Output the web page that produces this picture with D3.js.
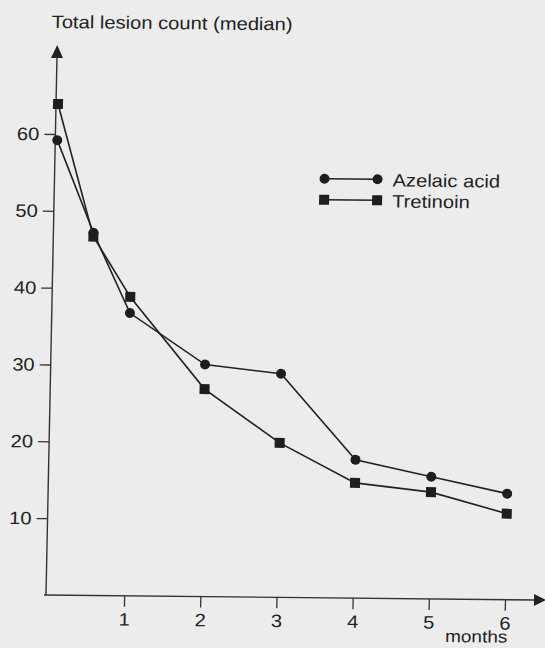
<!DOCTYPE html>
<html>
<head>
<meta charset="utf-8">
<style>
body { margin: 0; background: #ececec; }
svg { display: block; font-family: "Liberation Sans", Arial, sans-serif; }
.axis .domain { display: none; }
.axis line { stroke: #333; stroke-width: 1.3; }
.axis text { fill: #222; font-size: 18px; }
</style>
</head>
<body>
<svg width="545" height="648"></svg>
<script src="https://cdn.jsdelivr.net/npm/d3@7/dist/d3.min.js"></script>
<script>

// values
var months = [0, 0.5, 1, 2, 3, 4, 5, 6];
var azelaic = [59.2, 47.2, 36.8, 30.2, 29.1, 18.0, 15.9, 13.8];
var tretinoin = [63.9, 46.7, 38.9, 27.0, 20.1, 15.0, 13.9, 11.2];
var seriesNames = ["Azelaic acid", "Tretinoin"];
var xTicks = [1, 2, 3, 4, 5, 6];
var yTicks = [10, 20, 30, 40, 50, 60];

var svg = d3.select("svg"),
    ox = 46, oy = 595;   // axis corner

// the scan is slightly skewed, so the whole drawing gets a small shear
var g = svg.append("g")
    .attr("transform", "translate(" + ox + "," + oy + ") matrix(1,0.0102,-0.0204,1,0,0) translate(" + (-ox) + "," + (-oy) + ")");

var x = d3.scaleLinear().domain([0, 6]).range([ox + 2, 505]);
var y = d3.scaleLinear().domain([0, 60]).range([oy, 134]);

// text in the figure is a bit wider than Liberation Sans
function label(sel, tx, ty, str, anchor, size) {
  return sel.append("text")
      .attr("transform", "translate(" + tx + "," + ty + ") scale(1.12,1)")
      .attr("text-anchor", anchor || "start")
      .attr("font-size", size || 18)
      .attr("fill", "#222")
      .text(str);
}

// axes
g.append("g")
    .attr("class", "axis")
    .attr("transform", "translate(0," + oy + ")")
    .call(d3.axisBottom(x).tickValues(xTicks).tickSize(11).tickPadding(6).tickFormat(d3.format("d")))
  .selectAll("text")
    .attr("transform", "scale(1.12,1)");

g.append("g")
    .attr("class", "axis")
    .attr("transform", "translate(" + ox + ",0)")
    .call(d3.axisLeft(y).tickValues(yTicks).tickSize(11).tickFormat(d3.format("d")))
  .selectAll("text")
    .attr("x", null)
    .attr("transform", "translate(-16,0) scale(1.12,1)");

g.append("line")
    .attr("x1", ox - 2).attr("y1", oy)
    .attr("x2", 536).attr("y2", oy)
    .attr("stroke", "#333").attr("stroke-width", 1.4);
g.append("path")
    .attr("d", "M534,589 L546,595 L534,601 Z")
    .attr("fill", "#222");

g.append("line")
    .attr("x1", ox).attr("y1", oy)
    .attr("x2", ox).attr("y2", 56)
    .attr("stroke", "#333").attr("stroke-width", 1.4);
g.append("path")
    .attr("d", "M" + (ox - 6) + ",58 L" + ox + ",45 L" + (ox + 6) + ",58 Z")
    .attr("fill", "#222");

label(g, 40, 28, "Total lesion count (median)", "start", 18);
label(g, 477, 638, "months", "middle", 17);

// series
var line = d3.line()
    .x(function(d) { return x(d[0]); })
    .y(function(d) { return y(d[1]); });

function pairs(vals) { return months.map(function(m, i) { return [m, vals[i]]; }); }

[azelaic, tretinoin].forEach(function(vals) {
  g.append("path")
      .datum(pairs(vals))
      .attr("d", line)
      .attr("fill", "none")
      .attr("stroke", "#222")
      .attr("stroke-width", 1.6);
});

g.selectAll(".az")
    .data(pairs(azelaic))
  .enter().append("circle")
    .attr("cx", function(d) { return x(d[0]); })
    .attr("cy", function(d) { return y(d[1]); })
    .attr("r", 5)
    .attr("fill", "#1e1e1e");

g.selectAll(".tr")
    .data(pairs(tretinoin))
  .enter().append("rect")
    .attr("x", function(d) { return x(d[0]) - 5; })
    .attr("y", function(d) { return y(d[1]) - 5; })
    .attr("width", 10)
    .attr("height", 10)
    .attr("fill", "#1e1e1e");

// legend
var legend = g.append("g");
var ly = [176, 197];

legend.selectAll("line")
    .data(seriesNames)
  .enter().append("line")
    .attr("x1", 316).attr("x2", 369)
    .attr("y1", function(d, i) { return ly[i]; })
    .attr("y2", function(d, i) { return ly[i]; })
    .attr("stroke", "#222").attr("stroke-width", 1.6);

[316, 369].forEach(function(lx) {
  legend.append("circle").attr("cx", lx).attr("cy", ly[0]).attr("r", 5).attr("fill", "#1e1e1e");
  legend.append("rect").attr("x", lx - 5).attr("y", ly[1] - 5).attr("width", 10).attr("height", 10).attr("fill", "#1e1e1e");
});

seriesNames.forEach(function(name, i) {
  label(legend, 384, ly[i] + 7, name, "start", 18);
});

</script>
</body>
</html>
